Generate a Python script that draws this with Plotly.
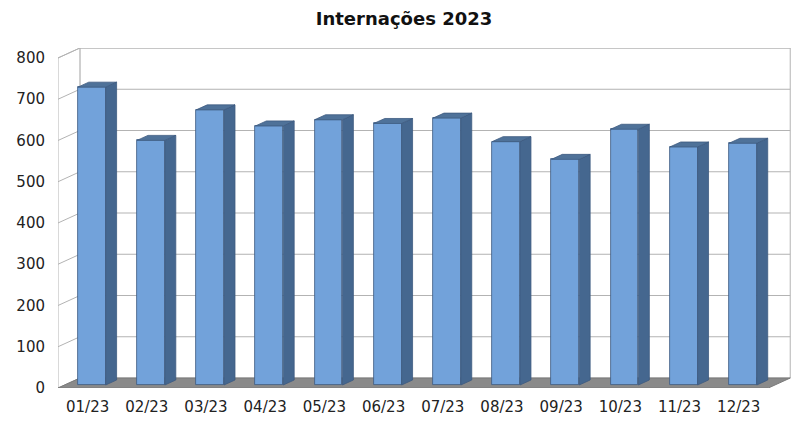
import plotly.graph_objects as go

# ---- data ----
months = ["01/23", "02/23", "03/23", "04/23", "05/23", "06/23",
          "07/23", "08/23", "09/23", "10/23", "11/23", "12/23"]
internacoes = [722, 593, 667, 628, 643, 634, 647, 590, 547, 620, 577, 586]
y_ticks = [0, 100, 200, 300, 400, 500, 600, 700, 800]
title_text = "Internações 2023"

# ---- pseudo-3D geometry (in axis units) ----
DX, DY = 0.37, 24.2        # full depth offset
F0, F1 = 0.30, 0.80        # bar front/back depth fraction
BW, OFF = 0.47, 0.07       # bar width and x offset
XL, XR = -0.5, 11.5        # front plane x extent
YMAX = 800

FRONT = "#72a2da"
SIDE = "#45678f"
TOP = "#4f7299"
EDGE = "#3d5a80"
GRID = "#b3b3b3"

xs = list(range(len(months)))
base = F0 * DY
dF = F1 - F0

fig = go.Figure()

shapes = []
# back wall
shapes.append(dict(type="rect", xref="x", yref="y", layer="below",
                   x0=XL + DX, x1=XR + DX, y0=DY, y1=YMAX + DY,
                   line=dict(color=GRID, width=1), fillcolor="white"))
# left wall
shapes.append(dict(type="path", xref="x", yref="y", layer="below",
                   path=f"M{XL},{0} L{XL},{YMAX} L{XL+DX},{YMAX+DY} L{XL+DX},{DY} Z",
                   line=dict(color=GRID, width=1), fillcolor="white"))
for v in y_ticks[1:]:
    shapes.append(dict(type="line", xref="x", yref="y", layer="below",
                       x0=XL + DX, x1=XR + DX, y0=v + DY, y1=v + DY,
                       line=dict(color=GRID, width=1)))
    shapes.append(dict(type="line", xref="x", yref="y", layer="below",
                       x0=XL, x1=XL + DX, y0=v, y1=v + DY,
                       line=dict(color=GRID, width=1)))
# floor
shapes.append(dict(type="path", xref="x", yref="y", layer="below",
                   path=f"M{XL},0 L{XR},0 L{XR+DX},{DY} L{XL+DX},{DY} Z",
                   line=dict(color="#7a7a7a", width=1), fillcolor="#8a8a8a"))

# bar front faces
fig.add_trace(go.Bar(
    x=[i + OFF for i in xs], y=internacoes, base=[base] * len(xs),
    width=BW, marker=dict(color=FRONT, line=dict(color=EDGE, width=0.8)),
    hoverinfo="skip", showlegend=False))

# side and top faces
sx, sy, tx, ty = [], [], [], []
for i, v in zip(xs, internacoes):
    L = i + OFF - BW / 2
    R = i + OFF + BW / 2
    B = base
    T = base + v
    ox, oy = dF * DX, dF * DY
    sx += [R, R + ox, R + ox, R, R, None]
    sy += [B, B + oy, T + oy, T, B, None]
    tx += [L, R, R + ox, L + ox, L, None]
    ty += [T, T, T + oy, T + oy, T, None]

fig.add_trace(go.Scatter(x=sx, y=sy, mode="lines", fill="toself",
                         fillcolor=SIDE, line=dict(color=EDGE, width=0.8),
                         hoverinfo="skip", showlegend=False))
fig.add_trace(go.Scatter(x=tx, y=ty, mode="lines", fill="toself",
                         fillcolor=TOP, line=dict(color=EDGE, width=0.8),
                         hoverinfo="skip", showlegend=False))

fig.update_layout(
    width=800, height=425,
    margin=dict(l=58, r=8, t=48, b=37, autoexpand=False),
    paper_bgcolor="white", plot_bgcolor="white",
    shapes=shapes,
    title=dict(text=f"<b>{title_text}</b>", x=404 / 800, xanchor="center",
               xref="container", y=1 - 19 / 425, yref="container", yanchor="middle",
               automargin=False,
               font=dict(family="DejaVu Sans, sans-serif", size=18, color="#111")),
    font=dict(family="DejaVu Sans, sans-serif", size=15, color="#222"),
    xaxis=dict(range=[XL, 11.9], tickmode="array", tickvals=xs, ticktext=months,
               showgrid=False, zeroline=False, showline=False, ticks="",
               ticklabelstandoff=8, automargin=False, fixedrange=True),
    yaxis=dict(range=[0, YMAX + DY], tickmode="array", tickvals=y_ticks,
               ticktext=[str(t) for t in y_ticks],
               showgrid=False, zeroline=False, showline=False, ticks="",
               ticklabelstandoff=12, automargin=False, fixedrange=True),
    bargap=0,
)

fig.write_html("out.html", config={"displayModeBar": False},
               post_script="document.body.style.margin='0';document.body.style.overflow='hidden';")
